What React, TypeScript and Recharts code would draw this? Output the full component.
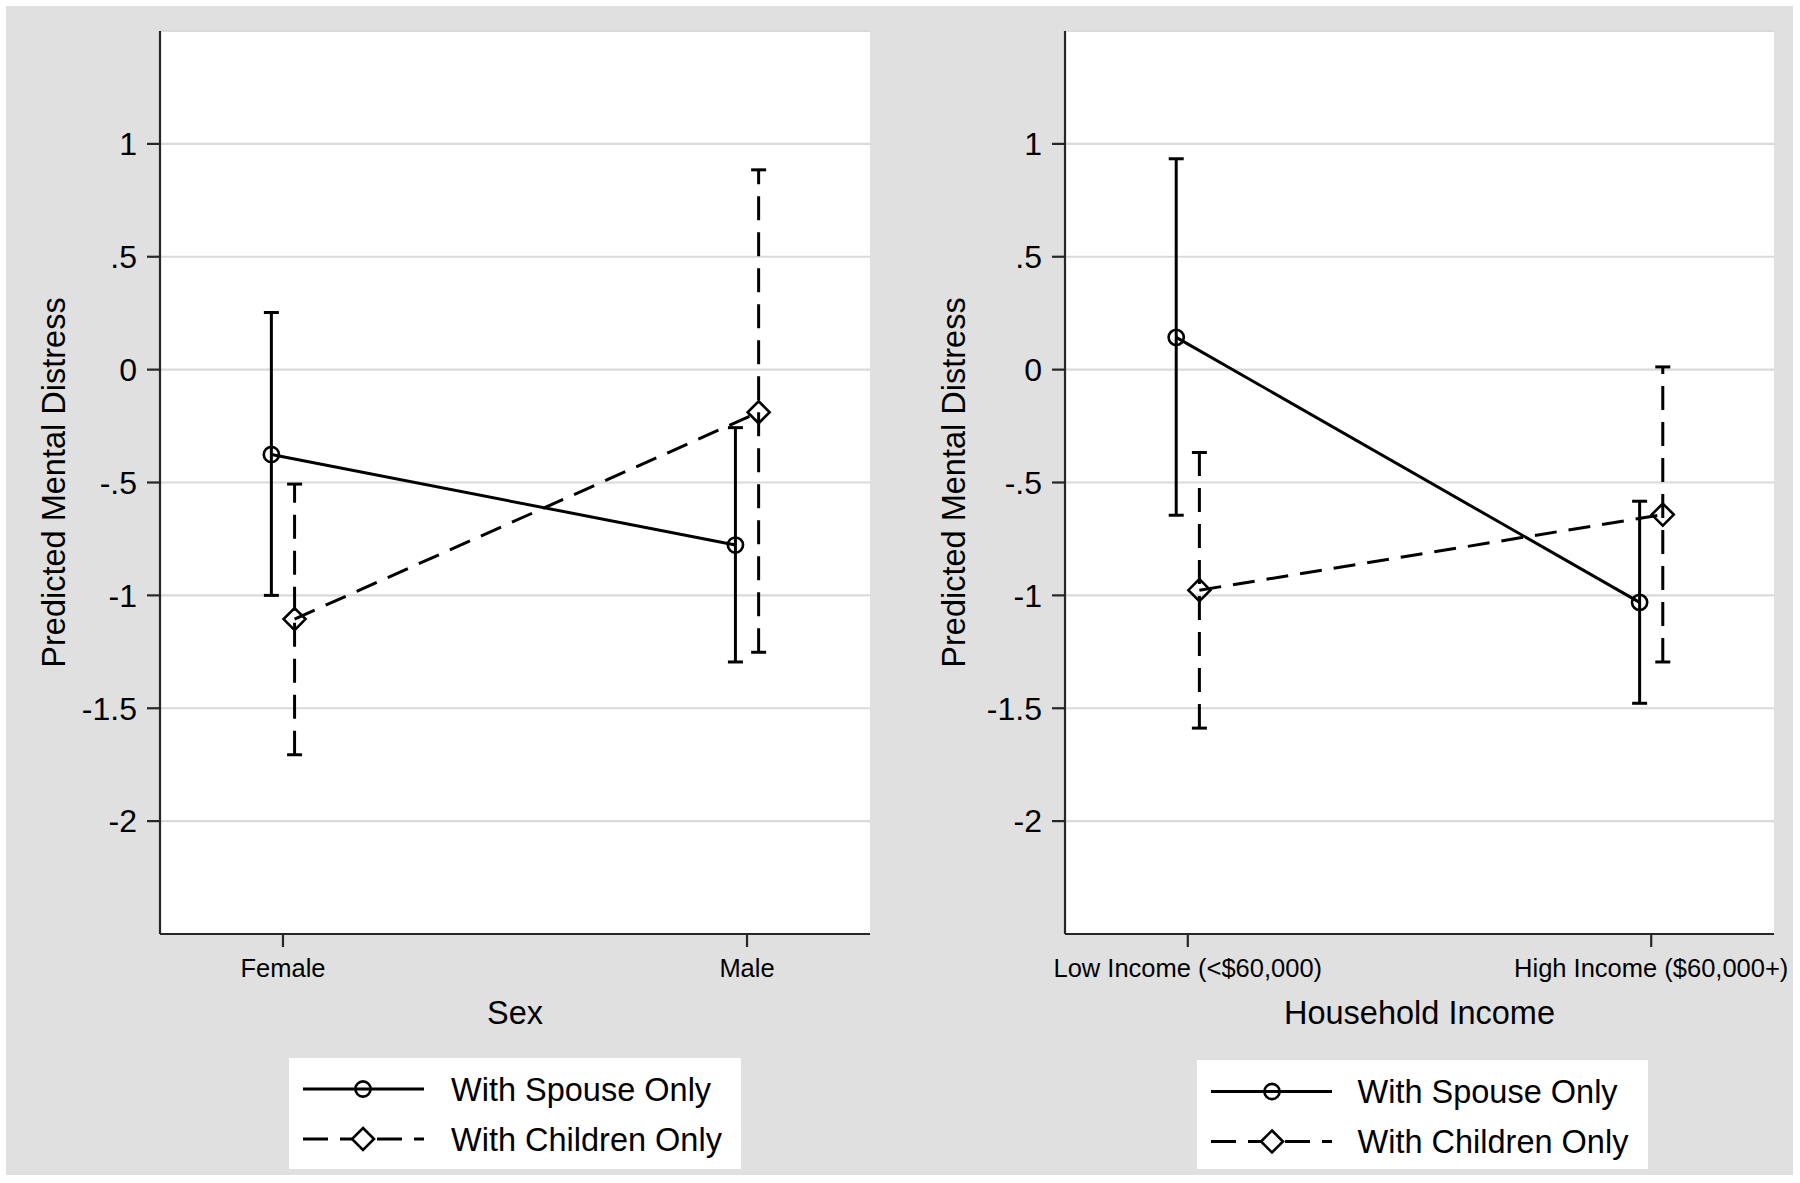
import React from 'react';
import { LineChart, Line, XAxis, YAxis, CartesianGrid, ErrorBar } from 'recharts';

// ---------- data ----------
const sexCategories = ['Female', 'Male'];
const incomeCategories = ['Low Income (<$60,000)', 'High Income ($60,000+)'];

const spouseBySex = [-0.376, -0.777];
const spouseBySexLow = [-1.0, -1.295];
const spouseBySexHigh = [0.253, -0.257];

const childrenBySex = [-1.105, -0.189];
const childrenBySexLow = [-1.706, -1.252];
const childrenBySexHigh = [-0.507, 0.885];

const spouseByIncome = [0.143, -1.031];
const spouseByIncomeLow = [-0.645, -1.478];
const spouseByIncomeHigh = [0.934, -0.583];

const childrenByIncome = [-0.977, -0.642];
const childrenByIncomeLow = [-1.588, -1.295];
const childrenByIncomeHigh = [-0.367, 0.012];

const yTickValues = [-2, -1.5, -1, -0.5, 0, 0.5, 1];
const yTickLabels = ['-2', '-1.5', '-1', '-.5', '0', '.5', '1'];

const seriesNames = ['With Spouse Only', 'With Children Only'];

// ---------- layout / style ----------
const FONT = '"Liberation Sans", Arial, Helvetica, sans-serif';
const INK = '#000000';
const AXIS = '#262626';
const GRID = '#dadada';
const BG = '#e0e0e0';
const DASH = '24 12';
const LINE_W = 3;
const MARK_W = 2.6;
const SPOUSE_OFFSET = -0.025;
const CHILDREN_OFFSET = 0.025;
const X_DOMAIN: [number, number] = [-0.265, 1.265];

type Pt = { x: number; y: number; err: [number, number] };

function build(vals: number[], lo: number[], hi: number[], offset: number): Pt[] {
  return vals.map((v, i) => ({ x: i + offset, y: v, err: [v - lo[i], hi[i] - v] }));
}

const CircleDot = (props: any) => {
  const { cx, cy, index } = props;
  if (cx == null || cy == null) return null;
  return <circle key={`c-${index}`} cx={cx} cy={cy} r={7.6} fill="none" stroke={INK} strokeWidth={MARK_W} />;
};

const DiamondDot = (props: any) => {
  const { cx, cy, index } = props;
  if (cx == null || cy == null) return null;
  const s = 11;
  return (
    <path
      key={`d-${index}`}
      d={`M${cx},${cy - s} L${cx + s},${cy} L${cx},${cy + s} L${cx - s},${cy} Z`}
      fill="none"
      stroke={INK}
      strokeWidth={MARK_W}
    />
  );
};

type PanelProps = {
  left: number;
  categories: string[];
  xTitle: string;
  spouse: Pt[];
  children: Pt[];
  yAxisWidth: number;
  marginRight: number;
};

function Panel({ left, categories, xTitle, spouse, children, yAxisWidth, marginRight }: PanelProps) {
  return (
    <div style={{ position: 'absolute', left, top: 0 }}>
      <LineChart
        width={900}
        height={1183}
        margin={{ top: 31, right: marginRight, bottom: 149, left: 0 }}
      >
        <CartesianGrid vertical={false} horizontal stroke={GRID} strokeWidth={2.2} fill="#ffffff" />
        <XAxis
          type="number"
          dataKey="x"
          domain={X_DOMAIN}
          ticks={[0, 1]}
          tickFormatter={(v: number) => categories[Math.round(v)] ?? ''}
          height={100}
          tickSize={13}
          tickMargin={12}
          stroke={AXIS}
          strokeWidth={2.2}
          tick={{ fill: INK, fontSize: 25.5, fontFamily: FONT }}
          allowDataOverflow
          label={{
            value: xTitle,
            position: 'insideBottom',
            offset: 10,
            fill: INK,
            fontSize: 32.5,
            fontFamily: FONT,
          }}
        />
        <YAxis
          type="number"
          domain={[-2.5, 1.5]}
          ticks={yTickValues}
          tickFormatter={(v: number) => yTickLabels[yTickValues.indexOf(v)] ?? String(v)}
          width={yAxisWidth}
          tickSize={13}
          tickMargin={10}
          stroke={AXIS}
          strokeWidth={2.2}
          tick={{ fill: INK, fontSize: 32, fontFamily: FONT }}
          allowDataOverflow
          label={{
            value: 'Predicted Mental Distress',
            angle: -90,
            position: 'insideLeft',
            offset: 53,
            fill: INK,
            fontSize: 32.5,
            fontFamily: FONT,
            style: { textAnchor: 'middle' },
          }}
        />
        <Line
          data={spouse}
          dataKey="y"
          type="linear"
          stroke={INK}
          strokeWidth={LINE_W}
          dot={CircleDot}
          activeDot={false}
          isAnimationActive={false}
        >
          <ErrorBar dataKey="err" direction="y" width={7.5} stroke={INK} strokeWidth={LINE_W} isAnimationActive={false} />
        </Line>
        <Line
          data={children}
          dataKey="y"
          type="linear"
          stroke={INK}
          strokeWidth={LINE_W}
          strokeDasharray="22 12"
          dot={DiamondDot}
          activeDot={false}
          isAnimationActive={false}
        >
          <ErrorBar
            dataKey="err"
            direction="y"
            width={7.5}
            stroke={INK}
            strokeWidth={LINE_W}
            strokeDasharray={DASH}
            isAnimationActive={false}
          />
        </Line>
      </LineChart>
    </div>
  );
}

type LegendProps = { left: number; top: number; width: number; height: number; rows: [number, number]; lineX: [number, number]; markerX: number; textX: number };

function LegendBox({ left, top, width, height, rows, lineX, markerX, textX }: LegendProps) {
  const fs = 32.5;
  return (
    <div style={{ position: 'absolute', left, top, width, height, background: '#ffffff' }}>
      <svg width={width} height={height} style={{ display: 'block' }}>
        <line x1={lineX[0]} x2={lineX[1]} y1={rows[0]} y2={rows[0]} stroke={INK} strokeWidth={LINE_W} />
        <circle cx={markerX} cy={rows[0]} r={7.6} fill="none" stroke={INK} strokeWidth={MARK_W} />
        <text x={textX} y={rows[0] + fs * 0.355} fontSize={fs} fontFamily={FONT} fill={INK}>
          {seriesNames[0]}
        </text>
        <line x1={lineX[0]} x2={lineX[1]} y1={rows[1]} y2={rows[1]} stroke={INK} strokeWidth={LINE_W} strokeDasharray="25 12" />
        <path
          d={`M${markerX},${rows[1] - 11} L${markerX + 11},${rows[1]} L${markerX},${rows[1] + 11} L${markerX - 11},${rows[1]} Z`}
          fill="#ffffff"
          stroke={INK}
          strokeWidth={MARK_W}
        />
        <text x={textX} y={rows[1] + fs * 0.355} fontSize={fs} fontFamily={FONT} fill={INK}>
          {seriesNames[1]}
        </text>
      </svg>
    </div>
  );
}

export default function App() {
  const spouseSex = build(spouseBySex, spouseBySexLow, spouseBySexHigh, SPOUSE_OFFSET);
  const childrenSex = build(childrenBySex, childrenBySexLow, childrenBySexHigh, CHILDREN_OFFSET);
  const spouseInc = build(spouseByIncome, spouseByIncomeLow, spouseByIncomeHigh, SPOUSE_OFFSET);
  const childrenInc = build(childrenByIncome, childrenByIncomeLow, childrenByIncomeHigh, CHILDREN_OFFSET);

  return (
    <div style={{ position: 'absolute', left: 0, top: 0, width: 1800, height: 1183, background: '#ffffff', fontFamily: FONT, overflow: 'hidden' }}>
      <div style={{ position: 'absolute', left: 6, top: 6, width: 1787, height: 1169, background: BG }} />
      <Panel
        left={0}
        categories={sexCategories}
        xTitle="Sex"
        spouse={spouseSex}
        children={childrenSex}
        yAxisWidth={160}
        marginRight={30}
      />
      <Panel
        left={900}
        categories={incomeCategories}
        xTitle="Household Income"
        spouse={spouseInc}
        children={childrenInc}
        yAxisWidth={165}
        marginRight={26}
      />
      <LegendBox left={289} top={1058} width={452} height={111} rows={[31, 81]} lineX={[14, 135]} markerX={74} textX={162} />
      <LegendBox left={1197} top={1060} width={451} height={109} rows={[31.5, 81.5]} lineX={[14, 135]} markerX={75} textX={160.5} />
    </div>
  );
}
